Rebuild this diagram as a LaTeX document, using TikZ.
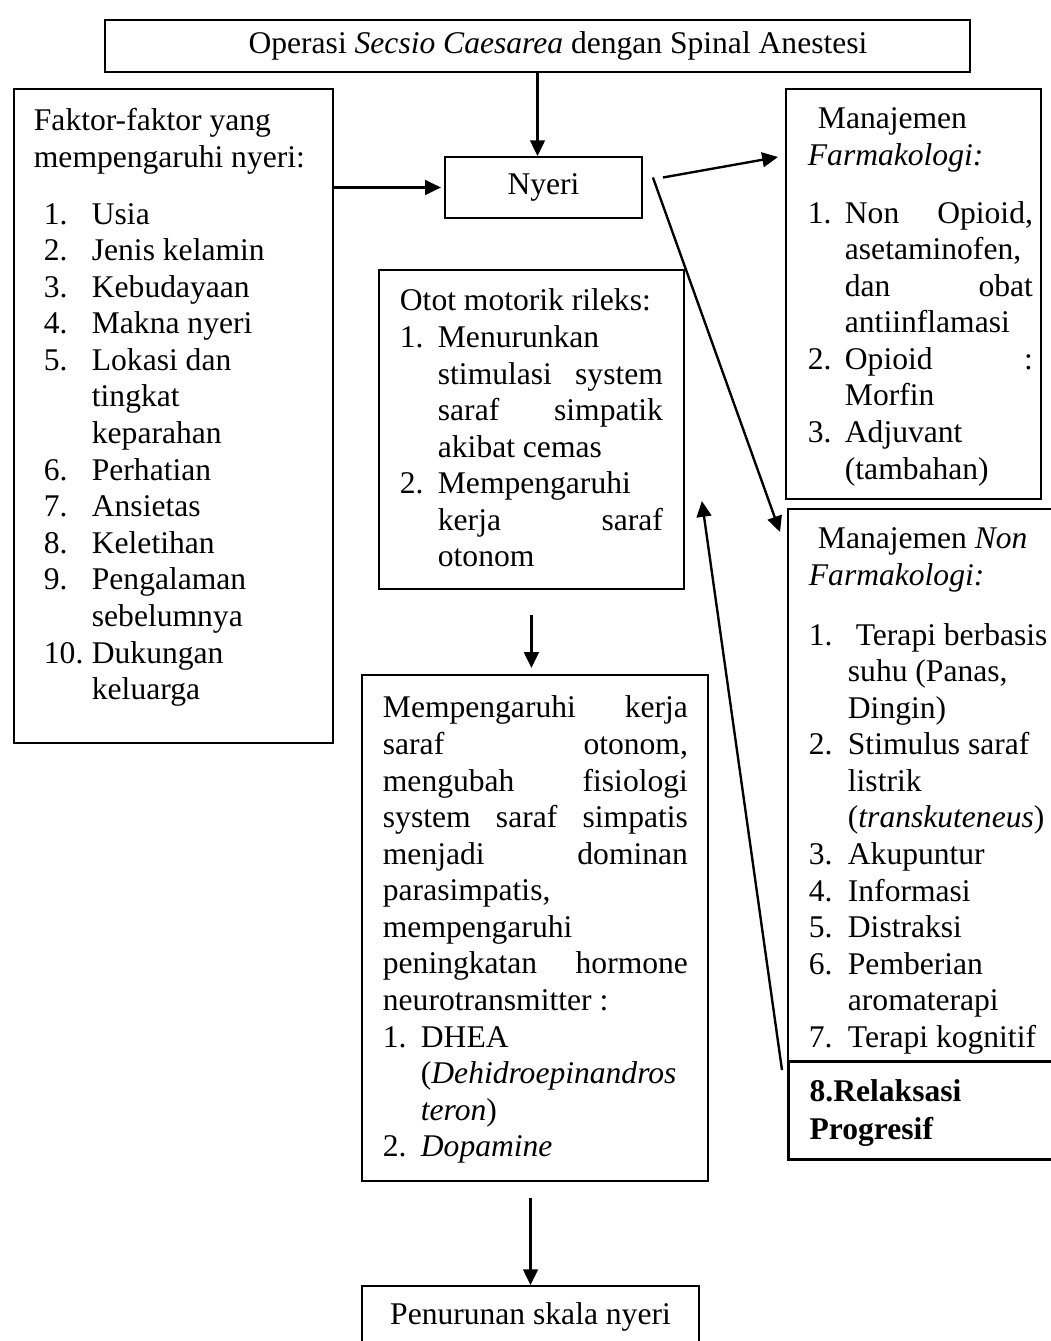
\documentclass[tikz,border=0pt]{standalone}
\usepackage{fontspec}
\setmainfont{Liberation Serif}
\usetikzlibrary{arrows.meta}
\newdimen\pxu \pxu=0.38pt
\newcommand\ofs[1]{\hspace*{#1\pxu}}
\newcommand\itemno[2]{\makebox[#1\pxu][l]{#2}}
\newcommand\jst[2]{\makebox[#1\pxu][s]{#2}}
\newcommand\boxtext[4]{\parbox[t][#2\pxu][t]{#1\pxu}{\vspace*{#3\pxu}\noindent #4}}

\begin{document}
\begin{tikzpicture}[x=0.38pt,y=-0.38pt,font=\fontsize{12}{13.9}\selectfont,
  box/.style={draw,line width=0.7pt,inner sep=0pt,anchor=north west},
  cbox/.style={draw,line width=0.7pt,inner sep=0pt},
  thickbox/.style={box,line width=1.25pt,font=\fontsize{12}{14.4}\selectfont\bfseries},
  arr/.style={line width=0.9pt,-{Triangle[length=6pt,width=5.6pt]}}]
\useasboundingbox (0,0) rectangle (1051,1341);
\node[cbox,minimum width=328.7pt,minimum height=19.76pt] (top) at (537.5,46) {\hspace*{41\pxu}Operasi \textit{Secsio Caesarea} dengan Spinal Anestesi};
\node[cbox,minimum width=74.86pt,minimum height=23.18pt] (nyeri) at (543.5,187.5) {Nyeri};
\node[box] (faktor) at (13,88) {\boxtext{319}{654}{16.4}{%
  \ofs{20}\strut Faktor-faktor yang\\
  \ofs{20}mempengaruhi nyeri:\\[20\pxu]
  \ofs{30}\itemno{48}{1.}Usia\\
  \ofs{30}\itemno{48}{2.}Jenis kelamin\\
  \ofs{30}\itemno{48}{3.}Kebudayaan\\
  \ofs{30}\itemno{48}{4.}Makna nyeri\\
  \ofs{30}\itemno{48}{5.}Lokasi dan\\
  \ofs{78}tingkat\\
  \ofs{78}keparahan\\
  \ofs{30}\itemno{48}{6.}Perhatian\\
  \ofs{30}\itemno{48}{7.}Ansietas\\
  \ofs{30}\itemno{48}{8.}Keletihan\\
  \ofs{30}\itemno{48}{9.}Pengalaman\\
  \ofs{78}sebelumnya\\
  \ofs{30}\itemno{48}{10.}Dukungan\\
  \ofs{78}keluarga}};
\node[box] (farm) at (785,88) {\boxtext{255}{410}{14.4}{%
  \ofs{32}\strut Manajemen\\
  \ofs{22}\textit{Farmakologi:}\\[21\pxu]
  \ofs{22}\itemno{37}{1.}\jst{188}{Non Opioid,}\\
  \ofs{59}asetaminofen,\\
  \ofs{59}\jst{188}{dan obat}\\
  \ofs{59}antiinflamasi\\
  \ofs{22}\itemno{37}{2.}\jst{188}{Opioid :}\\
  \ofs{59}Morfin\\
  \ofs{22}\itemno{37}{3.}Adjuvant\\
  \ofs{59}(tambahan)}};
\node[box] (nonfarm) at (787,508) {\boxtext{283}{552}{14.4}{%
  \ofs{30}\strut Manajemen \textit{Non}\\
  \ofs{21}\textit{Farmakologi:}\\[23\pxu]
  \ofs{21}\itemno{39}{1.}\ Terapi berbasis\\
  \ofs{60}suhu (Panas,\\
  \ofs{60}Dingin)\\
  \ofs{21}\itemno{39}{2.}Stimulus saraf\\
  \ofs{60}listrik\\
  \ofs{60}(\textit{transkuteneus})\\
  \ofs{21}\itemno{39}{3.}Akupuntur\\
  \ofs{21}\itemno{39}{4.}Informasi\\
  \ofs{21}\itemno{39}{5.}Distraksi\\
  \ofs{21}\itemno{39}{6.}Pemberian\\
  \ofs{60}aromaterapi\\
  \ofs{21}\itemno{39}{7.}Terapi kognitif}};
\node[thickbox] (relaks) at (787,1060) {\boxtext{283}{98}{13.5}{%
  \ofs{21}\strut 8.Relaksasi\\
  \ofs{21}Progresif}};
\node[box] (otot) at (378,269) {\boxtext{305}{319}{15.4}{%
  \ofs{21}\strut Otot motorik rileks:\\
  \ofs{21}\itemno{38}{1.}Menurunkan\\
  \ofs{59}\jst{225}{stimulasi system}\\
  \ofs{59}\jst{225}{saraf simpatik}\\
  \ofs{59}akibat cemas\\
  \ofs{21}\itemno{38}{2.}Mempengaruhi\\
  \ofs{59}\jst{225}{kerja saraf}\\
  \ofs{59}otonom}};
\node[box] (mem) at (361,674) {\boxtext{346}{506}{17.4}{%
  \ofs{21}\strut\jst{305}{Mempengaruhi kerja}\\
  \ofs{21}\jst{305}{saraf otonom,}\\
  \ofs{21}\jst{305}{mengubah fisiologi}\\
  \ofs{21}\jst{305}{system saraf simpatis}\\
  \ofs{21}\jst{305}{menjadi dominan}\\
  \ofs{21}parasimpatis,\\
  \ofs{21}mempengaruhi\\
  \ofs{21}\jst{305}{peningkatan hormone}\\
  \ofs{21}neurotransmitter :\\
  \ofs{21}\itemno{38}{1.}DHEA\\
  \ofs{59}(\textit{Dehidroepinandros}\\
  \ofs{59}\textit{teron})\\
  \ofs{21}\itemno{38}{2.}\textit{Dopamine}}};
\node[cbox,minimum width=128.06pt,minimum height=23.56pt] (pen) at (530.5,1317) {Penurunan skala nyeri};
\draw[arr] (top.south) -- (top.south |- nyeri.north);
\draw[arr,shorten >=1.2pt] (faktor.east |- nyeri.west) -- (nyeri.west);
\draw[arr] ([shift={(20,-10)}]nyeri.east) -- ([shift={(-7,69)}]farm.north west);
\draw[arr] ([shift={(10,-10)}]nyeri.east) -- ([shift={(-7,24)}]nonfarm.north west);
\draw[arr] ([shift={(-5,10)}]relaks.north west) -- ([shift={(17,232)}]otot.north east);
\draw[arr,shorten <=9.5pt,shorten >=2.3pt] (otot.south) -- (otot.south |- mem.north);
\draw[arr,shorten <=6.1pt] (pen.north |- mem.south) -- (pen.north);
\end{tikzpicture}
\end{document}
